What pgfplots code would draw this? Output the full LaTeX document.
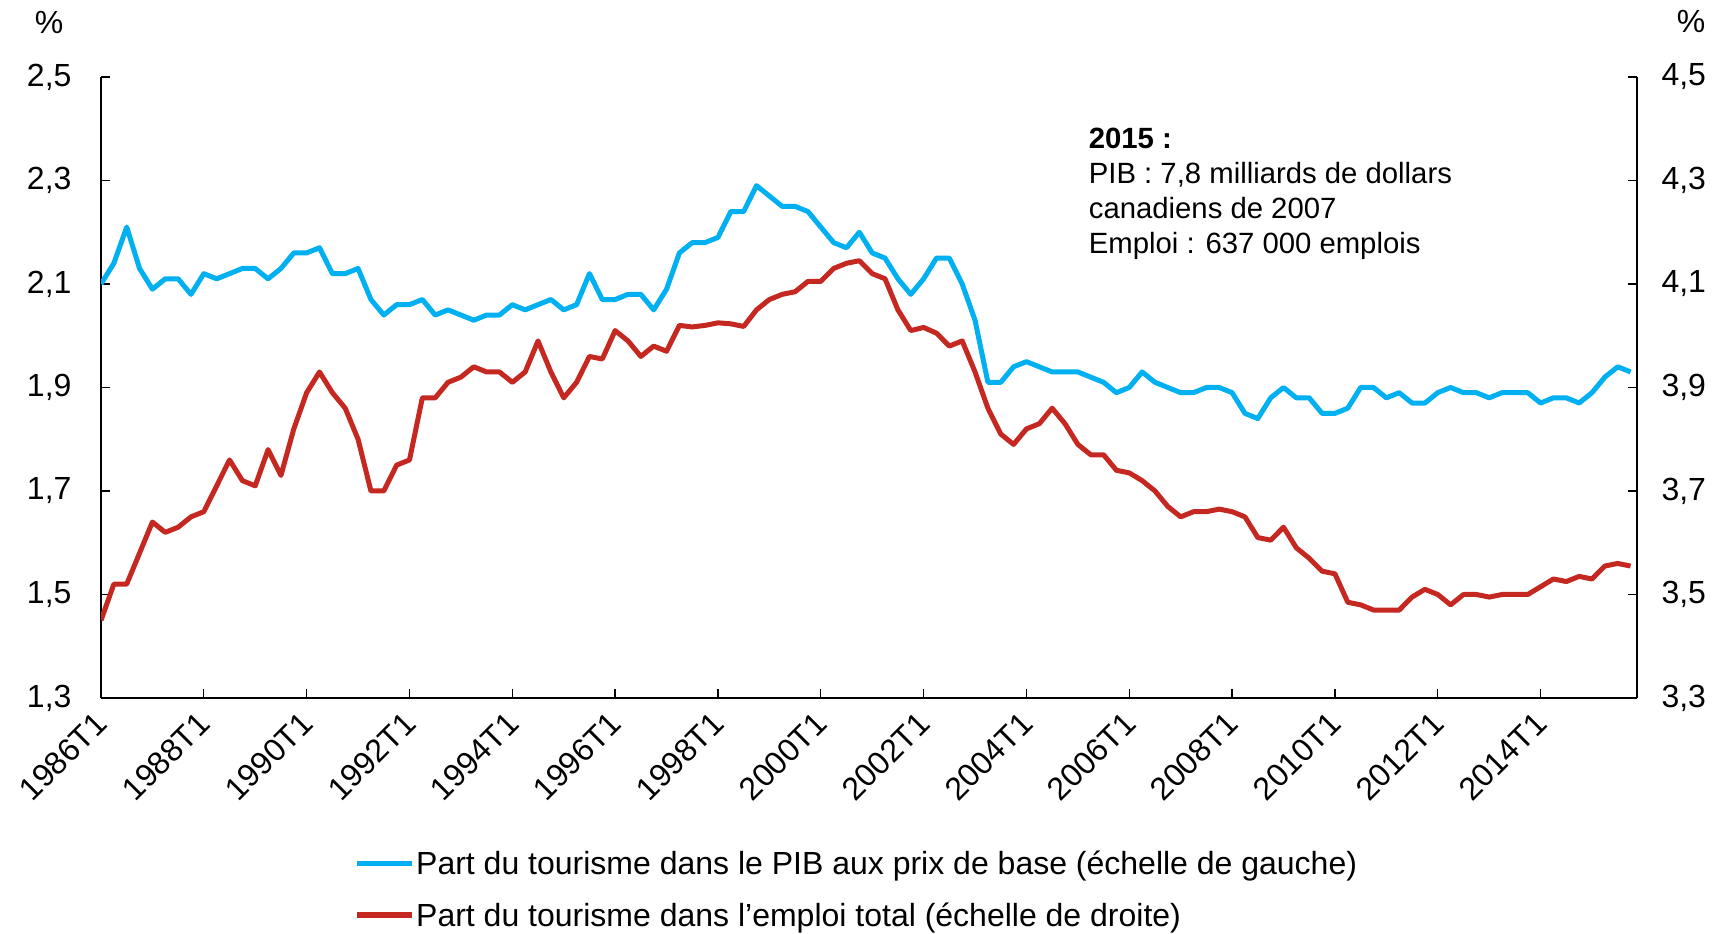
\documentclass[border=0pt]{standalone}
\usepackage{fontspec}
\setmainfont{Liberation Sans}
\usepackage{pgfplots}
\usepackage{pgfplotstable}
\pgfplotsset{compat=1.18}
\definecolor{cblue}{RGB}{0,176,240}
\definecolor{cred}{RGB}{196,40,32}
\pgfplotstableread{
i gdp emp
0 2.10 3.45
1 2.14 3.52
2 2.21 3.52
3 2.13 3.58
4 2.09 3.64
5 2.11 3.62
6 2.11 3.63
7 2.08 3.65
8 2.12 3.66
9 2.11 3.71
10 2.12 3.76
11 2.13 3.72
12 2.13 3.71
13 2.11 3.78
14 2.13 3.73
15 2.16 3.82
16 2.16 3.89
17 2.17 3.93
18 2.12 3.89
19 2.12 3.86
20 2.13 3.80
21 2.07 3.70
22 2.04 3.70
23 2.06 3.75
24 2.06 3.76
25 2.07 3.88
26 2.04 3.88
27 2.05 3.91
28 2.04 3.92
29 2.03 3.94
30 2.04 3.93
31 2.04 3.93
32 2.06 3.91
33 2.05 3.93
34 2.06 3.99
35 2.07 3.93
36 2.05 3.88
37 2.06 3.91
38 2.12 3.96
39 2.07 3.955
40 2.07 4.01
41 2.08 3.99
42 2.08 3.96
43 2.05 3.98
44 2.09 3.97
45 2.16 4.02
46 2.18 4.017
47 2.18 4.02
48 2.19 4.025
49 2.24 4.023
50 2.24 4.018
51 2.29 4.05
52 2.27 4.07
53 2.25 4.08
54 2.25 4.085
55 2.24 4.105
56 2.21 4.105
57 2.18 4.13
58 2.17 4.14
59 2.20 4.145
60 2.16 4.12
61 2.15 4.11
62 2.11 4.05
63 2.08 4.01
64 2.11 4.016
65 2.15 4.005
66 2.15 3.98
67 2.10 3.99
68 2.03 3.93
69 1.91 3.86
70 1.91 3.81
71 1.94 3.79
72 1.95 3.82
73 1.94 3.83
74 1.93 3.86
75 1.93 3.83
76 1.93 3.79
77 1.92 3.77
78 1.91 3.77
79 1.89 3.74
80 1.90 3.735
81 1.93 3.72
82 1.91 3.70
83 1.90 3.67
84 1.89 3.65
85 1.89 3.66
86 1.90 3.66
87 1.90 3.665
88 1.89 3.66
89 1.85 3.65
90 1.84 3.61
91 1.88 3.605
92 1.90 3.63
93 1.88 3.59
94 1.88 3.57
95 1.85 3.545
96 1.85 3.54
97 1.86 3.485
98 1.90 3.48
99 1.90 3.47
100 1.88 3.47
101 1.89 3.47
102 1.87 3.495
103 1.87 3.51
104 1.89 3.50
105 1.90 3.48
106 1.89 3.50
107 1.89 3.50
108 1.88 3.495
109 1.89 3.50
110 1.89 3.50
111 1.89 3.50
112 1.87 3.515
113 1.88 3.53
114 1.88 3.525
115 1.87 3.535
116 1.89 3.53
117 1.92 3.555
118 1.94 3.56
119 1.93 3.555
}\datatable

\pgfplotsset{
  common/.style={
    at={(101bp,236bp)}, anchor=south west,
    scale only axis, width=1536bp, height=621bp,
    xmin=0, xmax=119.5,
    clip mode=individual,
    tick align=inside, major tick length=9bp,
    axis line style={-, line width=1.6bp, black},
    tick style={line width=1.3bp, black},
    ticklabel style={font=\fontsize{32bp}{38bp}\selectfont},
    /pgf/number format/assume math mode=true,
    /pgf/number format/use comma,
    /pgf/number format/fixed,
    /pgf/number format/fixed zerofill,
    /pgf/number format/precision=1,
  }
}

\begin{document}
\begin{tikzpicture}
\useasboundingbox (0,0) rectangle (1723bp,934bp);
\begin{axis}[common,
  axis x line*=bottom, axis y line*=left,
  ymin=1.3, ymax=2.5,
  ytick={1.3,1.5,1.7,1.9,2.1,2.3,2.5},
  yticklabel style={xshift=-26bp},
  xtick={0,8,16,24,32,40,48,56,64,72,80,88,96,104,112},
  xticklabels={1986T1,1988T1,1990T1,1992T1,1994T1,1996T1,1998T1,2000T1,2002T1,2004T1,2006T1,2008T1,2010T1,2012T1,2014T1},
  xticklabel style={rotate=45, anchor=north east, inner sep=0pt, xshift=-13.5bp, yshift=-3bp},
  legend style={at={(axis description cs:0.1647,-0.2435)}, anchor=north west,
    draw=none, fill=none, inner sep=0pt, row sep=22bp,
    font=\fontsize{32bp}{38bp}\selectfont,
    nodes={inner sep=2bp}},
  legend cell align=left,
  legend image code/.code={\draw[#1] (0bp,0bp) -- (55bp,0bp);},
]
\addplot[cblue, line width=5bp, line join=round] table[x=i,y=gdp]{\datatable};
\addlegendentry{Part du tourisme dans le PIB aux prix de base (échelle de gauche)}
\addlegendimage{cred, line width=5bp}
\addlegendentry{Part du tourisme dans l’emploi total (échelle de droite)}
\node[font=\fontsize{32bp}{38bp}\selectfont, anchor=center] at (rel axis cs:0,1) [xshift=-52bp, yshift=55bp] {\%};
\node[anchor=north west, align=left, inner sep=0pt, font=\fontsize{29.3bp}{34.8bp}\selectfont]
  at (rel axis cs:0.643,0.9195) [yshift=-1bp] {\textbf{2015 :}\\PIB : 7,8 milliards de dollars\\canadiens de 2007\\Emploi : 637 000 emplois};
\end{axis}
\begin{axis}[common,
  axis x line=none, axis y line*=right,
  ymin=3.3, ymax=4.5,
  ytick={3.3,3.5,3.7,3.9,4.1,4.3,4.5},
  yticklabel style={xshift=21bp},
]
\addplot[cred, line width=5bp, line join=round] table[x=i,y=emp]{\datatable};
\node[font=\fontsize{32bp}{38bp}\selectfont, anchor=center] at (rel axis cs:1,1) [xshift=54bp, yshift=55bp] {\%};
\end{axis}
\end{tikzpicture}
\end{document}
